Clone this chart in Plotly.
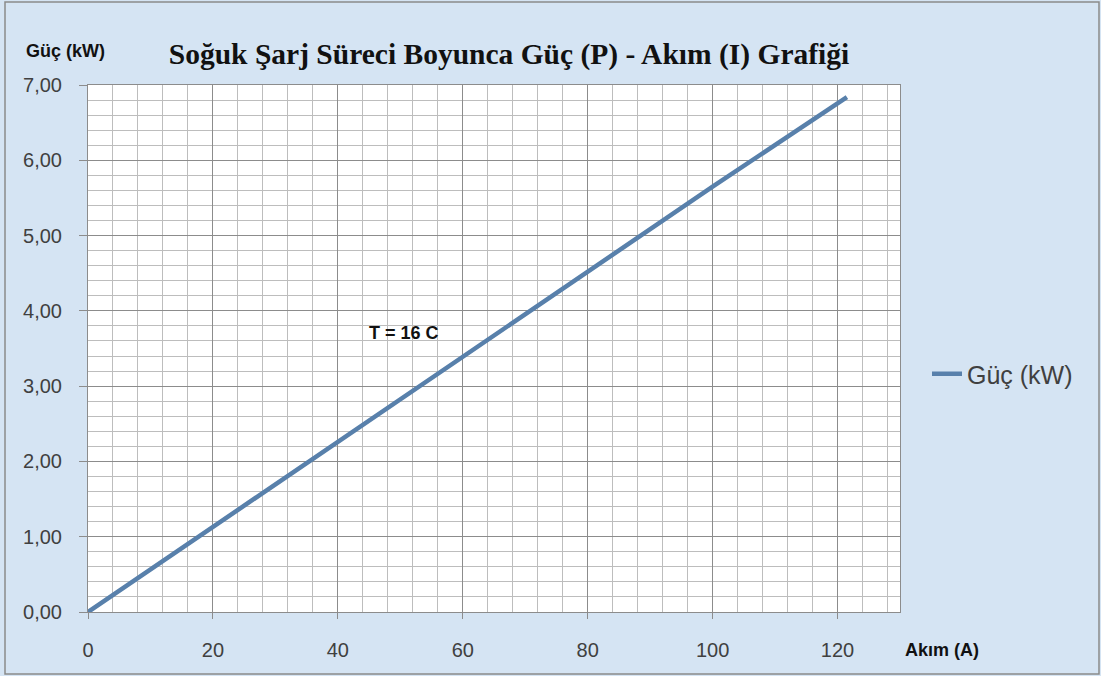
import plotly.graph_objects as go

# Soğuk şarj süreci: akım (A) - güç (kW)
akim = [0, 20, 40, 60, 80, 100, 121.5]
guc = [0.00, 1.13, 2.26, 3.39, 4.52, 5.65, 6.84]

x_ticks = [0, 20, 40, 60, 80, 100, 120]
y_ticks = [0, 1, 2, 3, 4, 5, 6, 7]

BG = "#d5e4f3"
LINE = "#5880ab"
TXT = "#404040"
SANS = "Liberation Sans, Arial, sans-serif"

W, H = 1101, 676
L, R, T, B = 88, 201, 85, 64
pw, ph = W - L - R, H - T - B


def px(x):
    # figure pixel -> paper x
    return (x - L) / pw


def py(y):
    # figure pixel -> paper y
    return (H - B - y) / ph


fig = go.Figure()
fig.add_trace(go.Scatter(
    x=akim, y=guc, mode="lines", name="Güç (kW)",
    line=dict(color=LINE, width=4.5),
))

fig.update_layout(
    width=W, height=H,
    margin=dict(l=L, r=R, t=T, b=B, autoexpand=False),
    paper_bgcolor=BG,
    plot_bgcolor="white",
    separators=",.",
    showlegend=True,
    legend=dict(x=px(927), y=py(374), xanchor="left", yanchor="middle",
                font=dict(family=SANS, size=25, color=TXT),
                bgcolor="rgba(0,0,0,0)", itemwidth=30),
    title=dict(text="<b>Soğuk Şarj Süreci Boyunca Güç (P) - Akım (I) Grafiği</b>",
               x=509 / W, xanchor="center", y=1 - 54 / H, yanchor="middle",
               font=dict(family="Liberation Serif, Times New Roman, serif", size=29.5, color="#111111")),
    xaxis=dict(range=[0, 130], tickvals=x_ticks, tickformat="d", automargin=False,
               showgrid=True, gridcolor="#8c8c8c", gridwidth=1,
               minor=dict(dtick=4, tick0=0, showgrid=True, gridcolor="#bdbdbd", gridwidth=1),
               ticks="outside", ticklen=6, tickcolor="#8c8c8c",
               showline=True, linecolor="#8c8c8c", mirror=True,
               zeroline=False, tickfont=dict(family=SANS, size=20, color=TXT),
               ticklabelstandoff=14),
    yaxis=dict(range=[0, 7], tickvals=y_ticks, tickformat=".2f", automargin=False,
               showgrid=True, gridcolor="#8c8c8c", gridwidth=1,
               minor=dict(dtick=0.2, tick0=0, showgrid=True, gridcolor="#bdbdbd", gridwidth=1),
               ticks="outside", ticklen=8, tickcolor="#8c8c8c",
               showline=True, linecolor="#8c8c8c", mirror=True,
               zeroline=False, tickfont=dict(family=SANS, size=20, color=TXT),
               ticklabelstandoff=13),
)

fig.add_annotation(text="<b>T = 16 C</b>", x=50.6, y=3.70, xref="x", yref="y",
                   showarrow=False, font=dict(family=SANS, size=18, color="#111111"))
fig.add_annotation(text="<b>Güç (kW)</b>", x=px(24), y=py(51), xref="paper", yref="paper",
                   xanchor="left", yanchor="middle", showarrow=False,
                   font=dict(family=SANS, size=18, color="#111111"))
fig.add_annotation(text="<b>Akım (A)</b>", x=px(903), y=py(650), xref="paper", yref="paper",
                   xanchor="left", yanchor="middle", showarrow=False,
                   font=dict(family=SANS, size=18, color="#111111"))

# outer chart border
fig.add_shape(type="rect", xref="paper", yref="paper",
              x0=px(5), x1=px(1099), y0=py(674), y1=py(2),
              line=dict(color="#8a8a8a", width=1.5), layer="below")

# drop the browser's default 8px body margin so the chart sits at 0,0
fig.write_html("out.html", config={"displayModeBar": False},
               post_script="document.body.style.margin='0';")
